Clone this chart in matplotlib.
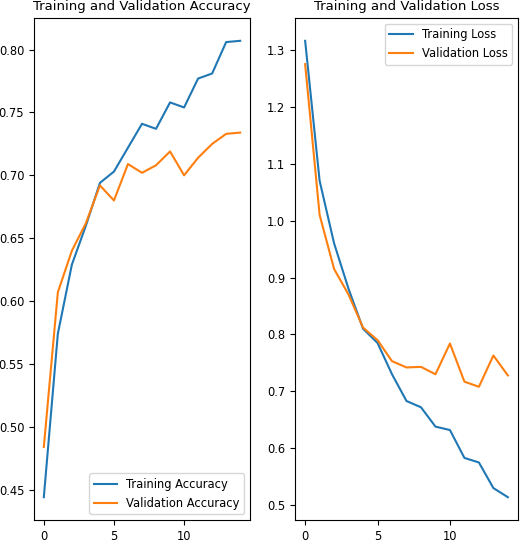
import matplotlib
matplotlib.use("Agg")
import matplotlib.pyplot as plt

epochs = list(range(15))
acc = [0.444, 0.574, 0.629, 0.660, 0.694, 0.703, 0.722, 0.741, 0.737, 0.758, 0.754, 0.777, 0.781, 0.806, 0.807]
val_acc = [0.484, 0.607, 0.640, 0.662, 0.692, 0.680, 0.709, 0.702, 0.708, 0.719, 0.700, 0.714, 0.725, 0.733, 0.734]
loss = [1.316, 1.070, 0.960, 0.880, 0.810, 0.785, 0.730, 0.683, 0.672, 0.638, 0.632, 0.583, 0.575, 0.530, 0.514]
val_loss = [1.275, 1.010, 0.915, 0.870, 0.812, 0.790, 0.753, 0.742, 0.743, 0.730, 0.784, 0.717, 0.708, 0.763, 0.728]

plt.rcParams["font.size"] = 8.3

fig = plt.figure(figsize=(5.2, 5.41), dpi=100)

ax1 = fig.add_axes([34/520, 21/541, 216/520, 502/541])
ax1.plot(epochs, acc, label="Training Accuracy")
ax1.plot(epochs, val_acc, label="Validation Accuracy")
ax1.legend(loc="lower right")
ax1.set_title("Training and Validation Accuracy", fontsize=9.5)

ax2 = fig.add_axes([295/520, 21/541, 223/520, 502/541])
ax2.plot(epochs, loss, label="Training Loss")
ax2.plot(epochs, val_loss, label="Validation Loss")
ax2.legend(loc="upper right")
ax2.set_title("Training and Validation Loss", fontsize=9.5)

fig.savefig("out.png", dpi=100)
